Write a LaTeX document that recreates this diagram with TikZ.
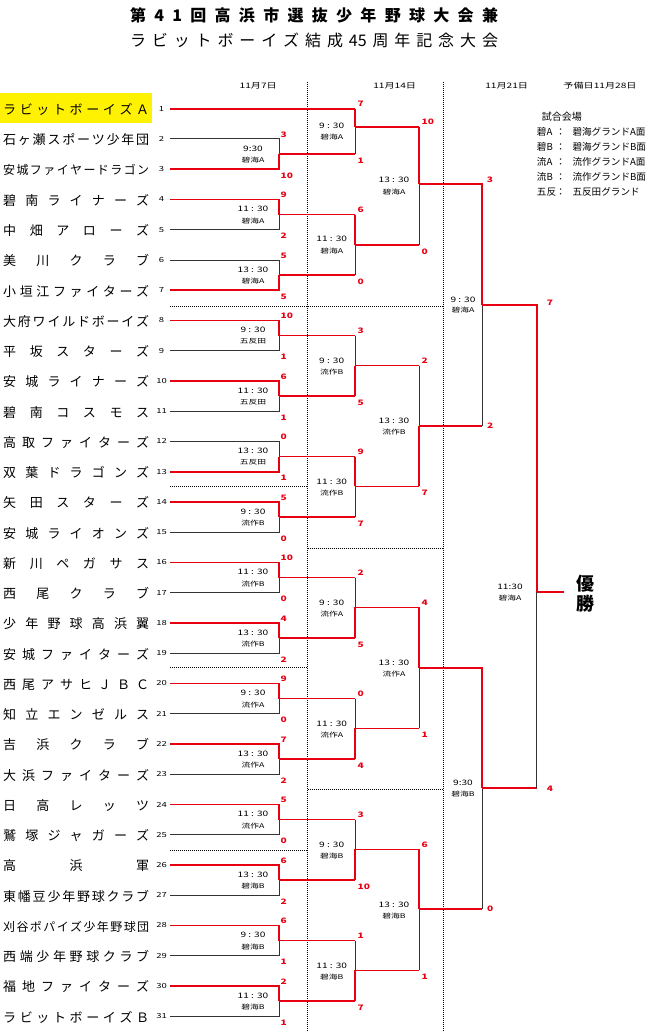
\documentclass[tikz,border=0pt]{standalone}
\usepackage{fontspec}
\setmainfont{Noto Sans CJK JP}
\newfontfamily\wide[FakeStretch=1.35]{Noto Sans CJK JP}
\usetikzlibrary{calc}
\definecolor{winred}{RGB}{230,0,18}
\def\spreadchars#1{\spreadstep#1\spreadend}
\def\spreadstep#1#2\spreadend{#1\ifx\relax#2\relax\else\hfill\spreadstep#2\spreadend\fi}

\begin{document}
\begin{tikzpicture}[x=1pt, y=-1pt,
  win/.style={draw=winred, line width=1.7pt},
  lose/.style={draw=black!80, line width=0.9pt},
  gridline/.style={draw=black, line width=0.5pt, dash pattern=on 0.8pt off 1.2pt},
  teamname/.style={anchor=west, inner sep=0pt},
  teamno/.style={inner sep=0pt, font=\wide\fontsize{7}{7}\selectfont},
  score/.style={inner sep=0pt, text=winred, font=\wide\fontsize{7.5}{7.5}\selectfont\bfseries},
  clock/.style={inner sep=0pt, font=\wide\fontsize{7.5}{7.5}\selectfont},
  venue/.style={inner sep=0pt, font=\wide\fontsize{6.5}{6.5}\selectfont},
  datehead/.style={inner sep=0pt, font=\wide\fontsize{7.5}{7.5}\selectfont},
  legendtext/.style={anchor=west, inner sep=0pt, font=\fontsize{9.6}{9.6}\selectfont}]
\useasboundingbox (0,0) rectangle (650,1032);

\node[font=\fontsize{16}{16}\selectfont\bfseries, inner sep=0pt] (title1) at (314,15) {\hbox to 368pt{\spreadchars{第41回高浜市選抜少年野球大会兼}}};
\node[font=\fontsize{16}{16}\selectfont, inner sep=0pt] (title2) at (314,40) {\hbox to 368pt{\spreadchars{ラビットボーイズ結成{45}周年記念大会}}};

\node[datehead] (d1) at (258.3,86) {11月7日};
\node[datehead] (d2) at (394.7,86) {11月14日};
\node[datehead] (d3) at (506.7,86) {11月21日};
\node[datehead] (d4) at (600,86) {予備日11月28日};

\draw[gridline] (307.7,82) -- (307.7,1032);
\draw[gridline] (443.3,82) -- (443.3,1032);
\draw[gridline] (170,306) -- (443.3,306);
\draw[gridline] (170,486.7) -- (307.7,486.7);
\draw[gridline] (307.7,548) -- (443.3,548);
\draw[gridline] (170,667.7) -- (307.7,667.7);
\draw[gridline] (307.7,789) -- (443.3,789);
\draw[gridline] (170,850) -- (307.7,850);

\fill[yellow] (0,93.3) rectangle (151.7,123.3);

\foreach \i/\sz/\nm in {1/13/ラビットボーイズＡ, 2/13/石ヶ瀬スポーツ少年団, 3/12/安城ファイヤードラゴン,
  4/13/碧南ライナーズ, 5/13/中畑アローズ, 6/13/美川クラブ, 7/13/小垣江ファイターズ,
  8/13/大府ワイルドボーイズ, 9/13/平坂スターズ, 10/13/安城ライナーズ, 11/13/碧南コスモス,
  12/13/高取ファイターズ, 13/13/双葉ドラゴンズ, 14/13/矢田スターズ, 15/13/安城ライオンズ,
  16/13/新川ペガサス, 17/13/西尾クラブ, 18/13/少年野球高浜翼, 19/13/安城ファイターズ,
  20/13/西尾アサヒＪＢＣ, 21/13/知立エンゼルス, 22/13/吉浜クラブ, 23/13/大浜ファイターズ,
  24/13/日高レッツ, 25/13/鷲塚ジャガーズ, 26/13/高浜軍, 27/13/東幡豆少年野球クラブ,
  28/12/刈谷ポパイズ少年野球団, 29/13/西端少年野球クラブ, 30/13/福地ファイターズ, 31/13/ラビットボーイズＢ}{
  \pgfmathsetmacro\yy{108.7+30.25*(\i-1)}
  \coordinate (t\i) at (170,\yy);
  \node[teamno] (no\i) at (161.5,\yy) {\i};
  \node[teamname, font=\fontsize{\sz}{\sz}\selectfont] (nm\i) at (3,{\yy+1}) {\hbox to 146pt{\expandafter\spreadchars\expandafter{\nm}}};
}

\coordinate (L1) at (253,0);
\coordinate (L2) at (331.7,0);
\coordinate (L3) at (394,0);
\coordinate (L4) at (463,0);
\coordinate (L5) at (510,0);

\foreach \k/\sa/\sb/\pa/\pb/\tm/\vn in {1/lose/win/3/10/9:30/碧海A, 2/win/lose/9/2/11 : 30/碧海A,
  3/lose/win/5/5/13 : 30/碧海A, 4/win/lose/10/1/9 : 30/五反田, 5/win/lose/6/1/11 : 30/五反田,
  6/lose/win/0/1/13 : 30/五反田, 7/win/lose/5/0/9 : 30/流作B, 8/win/lose/10/0/11 : 30/流作B,
  9/win/lose/4/2/13 : 30/流作B, 10/win/lose/9/0/9 : 30/流作A, 11/win/lose/7/2/13 : 30/流作A,
  12/win/lose/5/0/11 : 30/流作A, 13/win/lose/6/2/13 : 30/碧海B, 14/win/lose/6/1/9 : 30/碧海B,
  15/win/lose/2/1/11 : 30/碧海B}{
  \pgfmathtruncatemacro\a{2*\k}
  \pgfmathtruncatemacro\b{2*\k+1}
  \coordinate (r1m\k) at (279,{108.7+30.25*(2*\k-0.5)});
  \draw[\sa] (t\a) -- (t\a -| r1m\k) -- (r1m\k);
  \draw[\sb] (t\b) -- (t\b -| r1m\k) -- (r1m\k);
  \node[score, anchor=south west, xshift=1.5pt, yshift=1.5pt] (r1m\k-top) at (t\a -| r1m\k) {\pa};
  \node[score, anchor=north west, xshift=1.5pt, yshift=-3.5pt] (r1m\k-bot) at (t\b -| r1m\k) {\pb};
  \node[clock, yshift=5.5pt] (r1m\k-time) at (r1m\k -| L1) {\tm};
  \node[venue, yshift=-6pt] (r1m\k-place) at (r1m\k -| L1) {\vn};
}

\foreach \m/\x/\y/\a/\b/\sa/\sb/\pa/\pb/\tm/\vn/\lx in {
  r2m1/355/126.7/t1/r1m1/win/lose/7/1/9 : 30/碧海A/L2,
  r2m2/355/244.85/r1m2/r1m3/win/lose/6/0/11 : 30/碧海A/L2,
  r2m3/355/365.5/r1m4/r1m5/lose/win/3/5/9 : 30/流作B/L2,
  r2m4/355/486.4/r1m6/r1m7/win/lose/9/7/11 : 30/流作B/L2,
  r2m5/355/607.4/r1m8/r1m9/lose/win/2/5/9 : 30/流作A/L2,
  r2m6/355/728.4/r1m10/r1m11/lose/win/0/4/11 : 30/流作A/L2,
  r2m7/355/849.4/r1m12/r1m13/lose/win/3/10/9 : 30/碧海B/L2,
  r2m8/355/970.4/r1m14/r1m15/lose/win/1/7/11 : 30/碧海B/L2,
  r3m1/419/184.3/r2m1/r2m2/win/lose/10/0/13 : 30/碧海A/L3,
  r3m2/419/426/r2m3/r2m4/lose/win/2/7/13 : 30/流作B/L3,
  r3m3/419/667.7/r2m5/r2m6/win/lose/4/1/13 : 30/流作A/L3,
  r3m4/419/909.3/r2m7/r2m8/win/lose/6/1/13 : 30/碧海B/L3}{
  \coordinate (\m) at (\x,\y);
  \coordinate (\m-mid) at ($(\a)!0.5!(\b)$);
  \draw[win] (\a) -- (\a -| \m);
  \draw[win] (\b) -- (\b -| \m);
  \draw[\sa] (\a -| \m) -- (\m);
  \draw[\sb] (\b -| \m) -- (\m);
  \node[score, anchor=south west, xshift=2.5pt, yshift=1.5pt] (\m-top) at (\a -| \m) {\pa};
  \node[score, anchor=north west, xshift=2.5pt, yshift=-3.5pt] (\m-bot) at (\b -| \m) {\pb};
  \node[clock, yshift=5.5pt] (\m-time) at (\m-mid -| \lx) {\tm};
  \node[venue, yshift=-6pt] (\m-place) at (\m-mid -| \lx) {\vn};
}

\coordinate (r4m1) at (482.3,305);
\coordinate (r4m2) at (482.3,788.3);
\coordinate (fin) at (536.7,592.3);
\coordinate (champ-in) at (564,592.3);

\draw[win] (r3m1) -- (r3m1 -| r4m1) -- (r4m1);
\draw[win] (r3m2) -- (r3m2 -| r4m1);
\draw[lose] (r3m2 -| r4m1) -- (r4m1);
\draw[win] (r3m3) -- (r3m3 -| r4m2) -- (r4m2);
\draw[win] (r3m4) -- (r3m4 -| r4m2);
\draw[lose] (r3m4 -| r4m2) -- (r4m2);
\draw[win] (r4m1) -- (r4m1 -| fin) -- (fin);
\draw[win] (r4m2) -- (r4m2 -| fin);
\draw[lose] (r4m2 -| fin) -- (fin);
\draw[win] (fin) -- (champ-in);

\node[score, anchor=south west, xshift=4.4pt, yshift=1.5pt] (r4m1-top) at (r3m1 -| r4m1) {3};
\node[score, anchor=west, xshift=4.5pt] (r4m1-bot) at (r3m2 -| r4m1) {2};
\node[score, anchor=west, xshift=4.5pt, yshift=1pt] (r4m2-bot) at (r3m4 -| r4m2) {0};
\node[score, anchor=west, xshift=10pt, yshift=2.5pt] (fin-top) at (r4m1 -| fin) {7};
\node[score, anchor=west, xshift=10pt] (fin-bot) at (r4m2 -| fin) {4};

\node[clock, yshift=5.5pt] (r4m1-time) at (r4m1 -| L4) {9 : 30};
\node[venue, yshift=-5.5pt] (r4m1-place) at (r4m1 -| L4) {碧海A};
\node[clock, yshift=5.5pt] (r4m2-time) at (r4m2 -| L4) {9:30};
\node[venue, yshift=-6pt] (r4m2-place) at (r4m2 -| L4) {碧海B};
\node[clock, yshift=5pt] (fin-time) at (fin -| L5) {11:30};
\node[venue, yshift=-6pt] (fin-place) at (fin -| L5) {碧海A};

\node[font=\fontsize{18}{20}\selectfont\bfseries, align=center, inner sep=0pt] (champ) at (585,593.5) {優\\勝};

\node[legendtext, font=\fontsize{10}{10}\selectfont] (lghead) at (541.7,116.7) {試合会場};
\foreach \j/\ab/\full in {1/碧A/碧海グランドA面, 2/碧B/碧海グランドB面, 3/流A/流作グランドA面,
  4/流B/流作グランドB面, 5/五反/五反田グランド}{
  \node[legendtext] (lg\j) at (536.7,{117.3+15*\j}) {\makebox[19pt][l]{\ab}：\hspace{7pt}\full};
}
\end{tikzpicture}
\end{document}
